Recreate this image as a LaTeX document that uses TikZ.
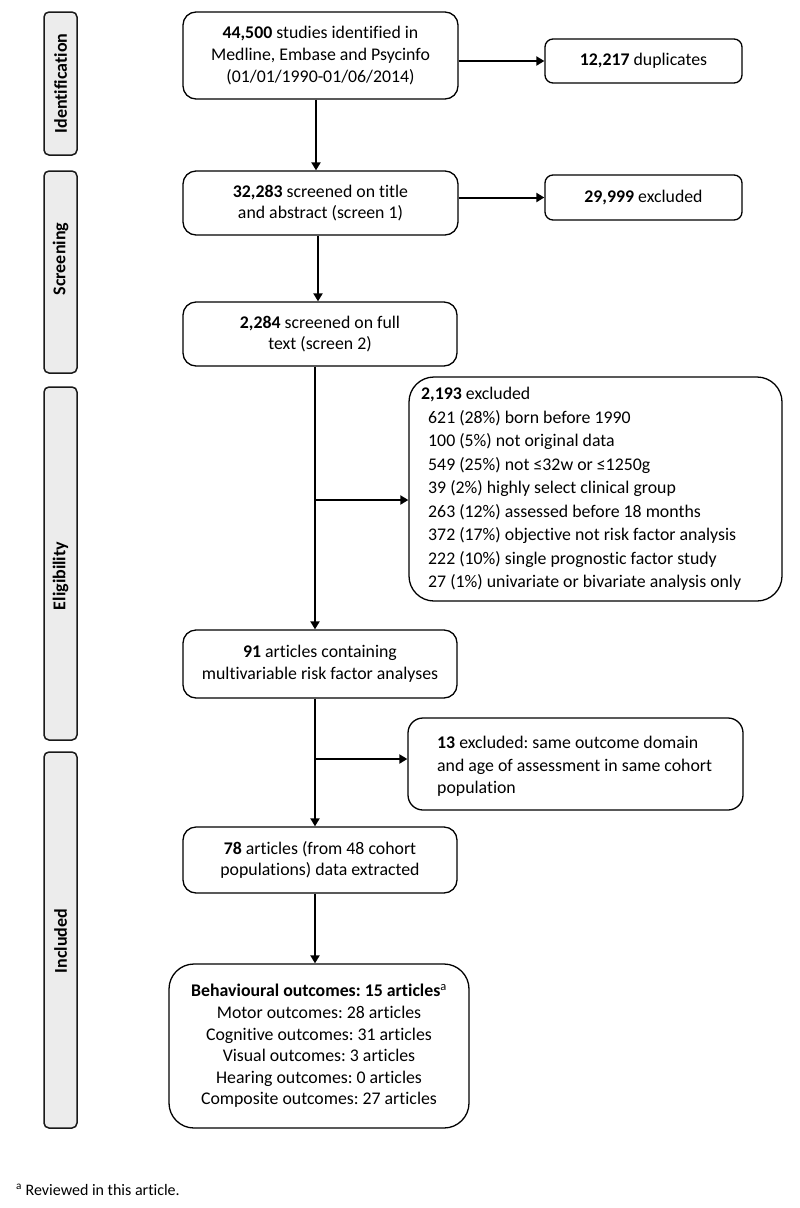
\documentclass[tikz,border=0pt]{standalone}
\usepackage{fontspec}
\setmainfont[Ligatures=NoCommon]{Carlito}
\usetikzlibrary{arrows.meta,calc}
\frenchspacing
\begin{document}
\begin{tikzpicture}[x=1pt,y=1pt,
  box/.style={draw, line width=1.3pt, rounded corners=13pt, align=center, inner sep=0pt, font=\fontsize{17.8}{21.6}\selectfont},
  phase/.style={draw=black!90, fill=gray!15, line width=1.5pt, rounded corners=5pt, minimum width=33pt, inner sep=0pt},
  phasetext/.style={rotate=90, inner sep=0pt, font=\bfseries\fontsize{18}{21}\selectfont},
  arr/.style={line width=2pt, -{Triangle[length=8pt,width=9pt]}},
  ltxt/.style={align=left, inner sep=0pt, anchor=west}
]
\useasboundingbox (0,0) rectangle (800,-1208);

% phase bars
\node[phase, minimum height=143pt] (pid) at (60.5,-83.5) {};
\node[phase, minimum height=202pt] (psc) at (60.5,-272) {};
\node[phase, minimum height=353pt] (pel) at (60.5,-563.5) {};
\node[phase, minimum height=376pt] (pin) at (60.5,-940) {};
\node[phasetext] (tid) at (60.5,-83.5) {Identification};
\node[phasetext] (tsc) at (60.5,-259) {Screening};
\node[phasetext] (tel) at (60.5,-576) {Eligibility};
\node[phasetext] (tin) at (60.5,-941) {Included};

% main column
\node[box, minimum width=275pt, minimum height=87pt] (box1) at (320.5,-55.5)
  {\textbf{44,500} studies identified in\\Medline, Embase and Psycinfo\\(01/01/1990-01/06/2014)};
\node[box, rounded corners=8pt, minimum width=197pt, minimum height=44pt] (dup) at (643.5,-61)
  {\textbf{12,217} duplicates};
\node[box, minimum width=275pt, minimum height=64pt] (box2) at (320.5,-203)
  {\textbf{32,283} screened on title\\and abstract (screen 1)};
\node[box, rounded corners=8pt, minimum width=197pt, minimum height=45pt] (ex2) at (643.5,-197.5)
  {\textbf{29,999} excluded};
\node[box, minimum width=274pt, minimum height=64pt] (box3) at (320,-334)
  {\textbf{2,284} screened on full\\text (screen 2)};
\node[box, rounded corners=25pt, minimum width=373pt, minimum height=224pt] (ex3) at (595.5,-489) {};
\node[ltxt, font=\fontsize{17.8}{23.5}\selectfont] (ex3t) at (421,-489)
  {\textbf{2,193} excluded\\
   \hspace*{7pt}621 (28\%) born before 1990\\
   \hspace*{7pt}100 (5\%) not original data\\
   \hspace*{7pt}549 (25\%) not ≤32w or ≤1250g\\
   \hspace*{7pt}39 (2\%) highly select clinical group\\
   \hspace*{7pt}263 (12\%) assessed before 18 months\\
   \hspace*{7pt}372 (17\%) objective not risk factor analysis\\
   \hspace*{7pt}222 (10\%) single prognostic factor study\\
   \hspace*{7pt}27 (1\%) univariate or bivariate analysis only};
\node[box, minimum width=274pt, minimum height=68pt] (box91) at (320,-664)
  {\textbf{91} articles containing\\multivariable risk factor analyses};
\node[box, rounded corners=15pt, minimum width=335pt, minimum height=92pt] (ex13) at (575.5,-764) {};
\node[ltxt, font=\fontsize{17.8}{22.3}\selectfont] (ex13t) at (437,-766.5)
  {\textbf{13} excluded: same outcome domain\\and age of assessment in same cohort\\population};
\node[box, minimum width=274pt, minimum height=66pt] (box78) at (320,-860)
  {\textbf{78} articles (from 48 cohort\\populations) data extracted};
\node[box, rounded corners=25pt, minimum width=300pt, minimum height=164pt] (final) at (319,-1046)
  {\textbf{Behavioural outcomes: 15 articles}\textsuperscript{a}\\
   Motor outcomes: 28 articles\\
   Cognitive outcomes: 31 articles\\
   Visual outcomes: 3 articles\\
   Hearing outcomes: 0 articles\\
   Composite outcomes: 27 articles};

\node[ltxt, font=\fontsize{16}{19}\selectfont] (foot) at (16,-1190) {\textsuperscript{a} Reviewed in this article.};

% connectors
\coordinate (sp) at (316,0);
\coordinate (sq) at (318,0);
\coordinate (sr) at (315,0);
\coordinate (b1) at (315,-500);
\coordinate (b2) at (315,-759);
\draw[arr] (dup.west -| box1.east) -- (dup.west);
\draw[arr] (box1.south -| sp) -- (box2.north -| sp);
\draw[arr] (ex2.west -| box2.east) -- (ex2.west);
\draw[arr] (box2.south -| sq) -- (box3.north -| sq);
\draw[arr] (box3.south -| sr) -- (box91.north -| sr);
\draw[arr] (b1) -- (b1 -| ex3.west);
\draw[arr] (box91.south -| sr) -- (box78.north -| sr);
\draw[arr] (b2) -- (b2 -| ex13.west);
\draw[arr] (box78.south -| sr) -- (final.north -| sr);
\end{tikzpicture}
\end{document}
